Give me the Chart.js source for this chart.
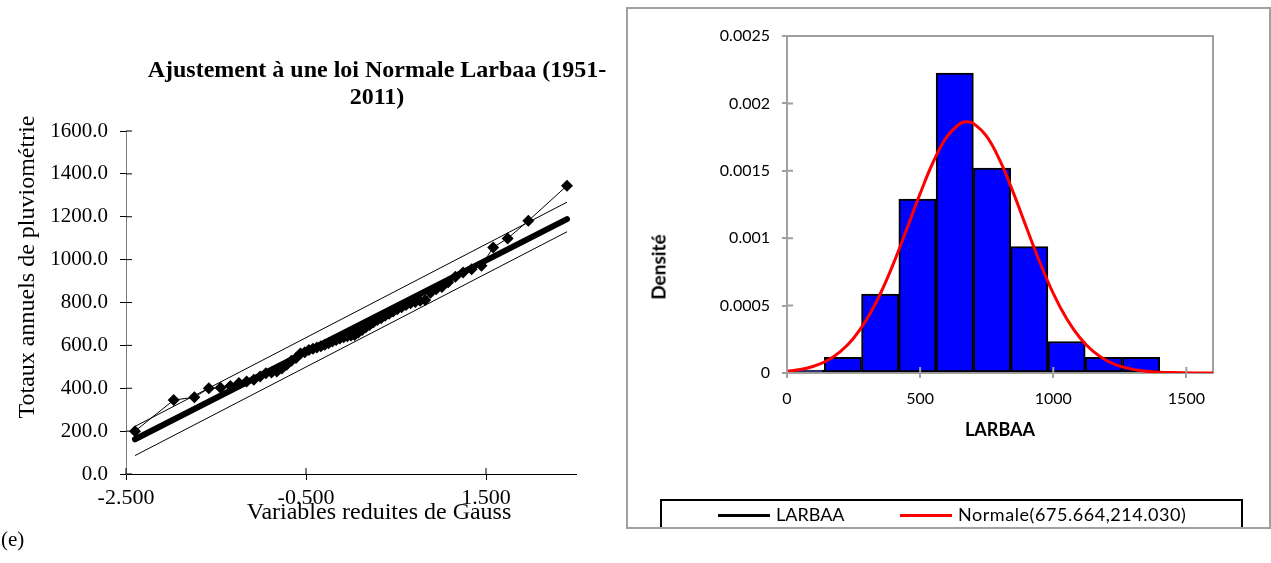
<!DOCTYPE html>
<html lang="fr">
  <head>
    <meta charset="UTF-8" />
    <title>Ajustement loi Normale Larbaa</title>
    <script src="https://cdn.jsdelivr.net/npm/chart.js"></script>
    <style>
      * {
        margin: 0;
        padding: 0;
        box-sizing: border-box;
      }
      body {
        width: 1271px;
        height: 563px;
        position: relative;
        overflow: hidden;
        background: #fff;
        font-family: "Liberation Serif", "Times New Roman", serif;
        color: #000;
      }
      #gaussChart {
        position: absolute;
        left: 0;
        top: 0;
      }
      .gauss-title {
        position: absolute;
        left: 377px;
        top: 56px;
        transform: translateX(-50%);
        font-size: 24px;
        font-weight: bold;
        line-height: 27px;
        text-align: center;
        white-space: nowrap;
      }
      .gauss-ytitle {
        position: absolute;
        left: 26px;
        top: 267px;
        transform: translate(-50%, -50%) rotate(-90deg);
        font-size: 24px;
        white-space: nowrap;
      }
      .gauss-xtitle {
        position: absolute;
        left: 379px;
        top: 511px;
        transform: translate(-50%, -50%);
        font-size: 24px;
        white-space: nowrap;
      }
      .tag {
        position: absolute;
        left: 1px;
        top: 527px;
        font-size: 21px;
      }
      .panel {
        position: absolute;
        left: 626px;
        top: 7px;
        width: 645px;
        height: 522px;
        border: 2px solid #a0a0a0;
        background: #fff;
        overflow: hidden;
        z-index: 2;
      }
      .panel canvas {
        position: absolute;
        left: 0;
        top: 0;
      }
      .dens-title {
        position: absolute;
        left: 30px;
        top: 258px;
        transform: translate(-50%, -50%) rotate(-90deg);
        font-family: "Lato", "Liberation Sans", sans-serif;
        font-weight: bold;
        font-size: 19px;
        white-space: nowrap;
      }
      .legend {
        position: absolute;
        left: 32px;
        top: 490px;
        width: 583px;
        height: 60px;
        border: 2px solid #000;
        font-family: "Lato", "Liberation Sans", sans-serif;
        font-size: 18px;
      }
      .legend .swatch {
        position: absolute;
        top: 13px;
        width: 52px;
        height: 3px;
      }
      .legend .label {
        position: absolute;
        top: 2px;
        white-space: nowrap;
      }
    </style>
  </head>
  <body>
    <canvas id="gaussChart" width="750" height="563"></canvas>
    <div class="gauss-title">Ajustement à une loi Normale Larbaa (1951-<br />2011)</div>
    <div class="gauss-ytitle">Totaux annuels de pluviométrie</div>
    <div class="gauss-xtitle">Variables reduites de Gauss</div>
    <div class="tag">(e)</div>

    <div class="panel">
      <canvas id="histChart" width="641" height="518"></canvas>
      <div class="dens-title">Densité</div>
      <div class="legend">
        <span class="swatch" style="left: 56px; background: #000"></span>
        <span class="label" style="left: 114px">LARBAA</span>
        <span class="swatch" style="left: 238px; background: #ff0000"></span>
        <span class="label" style="left: 296px; letter-spacing: 0.55px">Normale(675.664,214.030)</span>
      </div>
    </div>

    <script>
      // left chart: sorted annual totals against reduced Gauss variable
      const gaussZ = [
        -2.4, -1.97, -1.74, -1.58, -1.45, -1.34, -1.245, -1.16, -1.08, -1.01,
        -0.946, -0.883, -0.824, -0.768, -0.714, -0.662, -0.611, -0.562, -0.514,
        -0.468, -0.423, -0.379, -0.335, -0.292, -0.249, -0.207, -0.165, -0.124,
        -0.082, -0.041, 0, 0.041, 0.082, 0.124, 0.165, 0.207, 0.249, 0.292,
        0.335, 0.379, 0.423, 0.468, 0.514, 0.562, 0.611, 0.662, 0.714, 0.768,
        0.824, 0.883, 0.946, 1.01, 1.08, 1.16, 1.245, 1.34, 1.45, 1.58, 1.74,
        1.97, 2.4,
      ];
      const rainTotals = [
        200, 345, 358, 400, 402, 410, 425, 432, 440, 455, 470, 474, 478, 492,
        510, 528, 541, 562, 568, 578, 584, 590, 596, 603, 610, 618, 625, 632,
        638, 643, 646, 648, 660, 672, 684, 695, 708, 718, 727, 738, 748, 758,
        768, 778, 788, 796, 802, 808, 812, 845, 862, 872, 895, 920, 940, 955,
        972, 1057, 1099, 1181, 1345,
      ];
      const lineZ = [-2.4, 2.4];
      const fitLine = [162, 1189];
      const upperBand = [222, 1268];
      const lowerBand = [86, 1130];
      const gaussTicks = [-2.5, -0.5, 1.5];
      const gaussTickLabels = ["-2.500", "-0.500", "1.500"];
      const rainTicks = [0, 200, 400, 600, 800, 1000, 1200, 1400, 1600];
      const rainTickLabels = [
        "0.0", "200.0", "400.0", "600.0", "800.0", "1000.0", "1200.0",
        "1400.0", "1600.0",
      ];

      // right chart: histogram and fitted normal density
      const binEdges = [0, 140, 280, 420, 560, 700, 840, 980, 1120, 1260, 1400];
      const binDensity = [
        0, 0.000117, 0.000585, 0.00129, 0.002225, 0.00152, 0.000937, 0.000234,
        0.000117, 0.000117,
      ];
      const curveX = [
        0, 50, 100, 150, 200, 250, 300, 350, 400, 450, 500, 550, 600, 650, 675,
        700, 750, 800, 850, 900, 950, 1000, 1050, 1100, 1150, 1200, 1250, 1300,
        1350, 1400, 1450, 1500, 1550, 1600,
      ];
      const curveY = [
        0.000013, 0.000026, 0.00005, 0.000091, 0.000158, 0.000258, 0.0004,
        0.000586, 0.000813, 0.001069, 0.001331, 0.001569, 0.001751, 0.001851,
        0.001864, 0.001852, 0.001755, 0.001575, 0.001338, 0.001076, 0.00082,
        0.000591, 0.000404, 0.000261, 0.00016, 0.000093, 0.000051, 0.000027,
        0.000013, 0.000006, 0.000003, 0.000001, 0.0000004, 0.0000001,
      ];
      const densXTicks = [0, 500, 1000, 1500];
      const densYTicks = [0, 0.0005, 0.001, 0.0015, 0.002, 0.0025];
      const densYLabels = ["0", "0.0005", "0.001", "0.0015", "0.002", "0.0025"];

      const serif = "'Liberation Serif', 'Times New Roman', serif";
      const sans = "Lato, 'Liberation Sans', sans-serif";

      // tick marks that cross the axis line (Excel style)
      const crossTicks = {
        id: "crossTicks",
        afterDraw(chart, args, opts) {
          const { ctx, chartArea } = chart;
          const xs = chart.scales.x;
          const ys = chart.scales.y;
          ctx.save();
          ctx.strokeStyle = opts.color;
          ctx.lineWidth = opts.width;
          ctx.beginPath();
          xs.ticks.forEach((t) => {
            const px = xs.getPixelForValue(t.value);
            ctx.moveTo(px, chartArea.bottom);
            ctx.lineTo(px, chartArea.bottom - opts.len);
          });
          ys.ticks.forEach((t) => {
            const py = ys.getPixelForValue(t.value);
            ctx.moveTo(chartArea.left, py);
            ctx.lineTo(chartArea.left + opts.len, py);
          });
          ctx.stroke();
          ctx.restore();
        },
      };

      const plotFrame = {
        id: "plotFrame",
        beforeDatasetsDraw(chart, args, opts) {
          if (!opts.color) return;
          const { ctx, chartArea } = chart;
          ctx.save();
          ctx.strokeStyle = opts.color;
          ctx.lineWidth = opts.width;
          ctx.strokeRect(
            chartArea.left,
            chartArea.top,
            chartArea.right - chartArea.left,
            chartArea.bottom - chartArea.top
          );
          ctx.restore();
        },
      };

      const toXY = (xs, ys) => xs.map((x, i) => ({ x: x, y: ys[i] }));

      new Chart(document.getElementById("gaussChart"), {
        type: "scatter",
        data: {
          datasets: [
            {
              label: "Observations",
              data: toXY(gaussZ, rainTotals),
              showLine: true,
              borderColor: "#000",
              borderWidth: 1,
              backgroundColor: "#000",
              pointStyle: "rectRot",
              pointRadius: 6,
              pointBorderWidth: 0,
              order: 1,
            },
            {
              label: "Ajustement",
              data: toXY(lineZ, fitLine),
              showLine: true,
              borderColor: "#000",
              borderWidth: 6,
              borderCapStyle: "round",
              pointRadius: 0,
              order: 2,
            },
            {
              label: "Borne sup",
              data: toXY(lineZ, upperBand),
              showLine: true,
              borderColor: "#000",
              borderWidth: 1,
              pointRadius: 0,
              order: 3,
            },
            {
              label: "Borne inf",
              data: toXY(lineZ, lowerBand),
              showLine: true,
              borderColor: "#000",
              borderWidth: 1,
              pointRadius: 0,
              order: 3,
            },
          ],
        },
        options: {
          responsive: false,
          animation: false,
          layout: { padding: { left: 0, right: 174, top: 131, bottom: 0 } },
          plugins: {
            legend: { display: false },
            tooltip: { enabled: false },
            crossTicks: { color: "#000", width: 1, len: 6 },
            plotFrame: { color: null },
          },
          scales: {
            x: {
              type: "linear",
              min: -2.5,
              max: 2.5,
              afterBuildTicks: (s) => {
                s.ticks = gaussTicks.map((v) => ({ value: v }));
              },
              afterFit: (s) => {
                s.height = 89;
              },
              grid: { drawOnChartArea: false, tickLength: 6, color: "#000" },
              border: { color: "#000", width: 1 },
              ticks: {
                color: "#000",
                autoSkip: false,
                maxRotation: 0,
                padding: 5,
                font: { family: serif, size: 22 },
                callback: (v, i) => gaussTickLabels[i],
              },
            },
            y: {
              min: 0,
              max: 1600,
              afterBuildTicks: (s) => {
                s.ticks = rainTicks.map((v) => ({ value: v }));
              },
              afterFit: (s) => {
                s.width = 126;
              },
              grid: { drawOnChartArea: false, tickLength: 6, color: "#000" },
              border: { color: "#808080", width: 1 },
              ticks: {
                color: "#000",
                autoSkip: false,
                padding: 12,
                font: { family: serif, size: 21 },
                callback: (v, i) => rainTickLabels[i],
              },
            },
          },
        },
        plugins: [crossTicks, plotFrame],
      });

      const binCenters = binDensity.map((d, i) => (binEdges[i] + binEdges[i + 1]) / 2);

      new Chart(document.getElementById("histChart"), {
        type: "bar",
        data: {
          datasets: [
            {
              type: "line",
              label: "Normale(675.664,214.030)",
              data: toXY(curveX, curveY),
              borderColor: "#ff0000",
              borderWidth: 3,
              pointRadius: 0,
              tension: 0.4,
              order: 1,
            },
            {
              type: "bar",
              label: "LARBAA",
              data: toXY(binCenters, binDensity),
              backgroundColor: "#0000ff",
              borderColor: "#000",
              borderWidth: 2,
              borderSkipped: false,
              barPercentage: 1,
              categoryPercentage: 1,
              minBarLength: 3,
              order: 2,
            },
          ],
        },
        options: {
          responsive: false,
          animation: false,
          layout: { padding: { left: 0, right: 56, top: 27, bottom: 0 } },
          plugins: {
            legend: { display: false },
            tooltip: { enabled: false },
            crossTicks: { color: "#a0a0a0", width: 2, len: 6 },
            plotFrame: { color: "#a0a0a0", width: 2 },
          },
          scales: {
            x: {
              type: "linear",
              min: 0,
              max: 1600,
              offset: false,
              afterBuildTicks: (s) => {
                s.ticks = densXTicks.map((v) => ({ value: v }));
              },
              afterFit: (s) => {
                s.height = 154;
              },
              grid: { offset: false, drawOnChartArea: false, tickLength: 5, color: "#a0a0a0", lineWidth: 2 },
              border: { color: "#a0a0a0", width: 2 },
              ticks: {
                color: "#000",
                autoSkip: false,
                maxRotation: 0,
                padding: 11,
                font: { family: sans, size: 16 },
                callback: (v) => String(v),
              },
              title: {
                display: true,
                text: "LARBAA",
                color: "#000",
                font: { family: sans, size: 18, weight: "bold" },
                padding: { top: 0, bottom: 86 },
              },
            },
            y: {
              min: 0,
              max: 0.0025,
              afterBuildTicks: (s) => {
                s.ticks = densYTicks.map((v) => ({ value: v }));
              },
              afterFit: (s) => {
                s.width = 159;
              },
              grid: { drawOnChartArea: false, tickLength: 5, color: "#a0a0a0", lineWidth: 2 },
              border: { color: "#a0a0a0", width: 2 },
              ticks: {
                color: "#000",
                autoSkip: false,
                padding: 12,
                font: { family: sans, size: 16 },
                callback: (v, i) => densYLabels[i],
              },
            },
          },
        },
        plugins: [crossTicks, plotFrame],
      });
    </script>
  </body>
</html>
